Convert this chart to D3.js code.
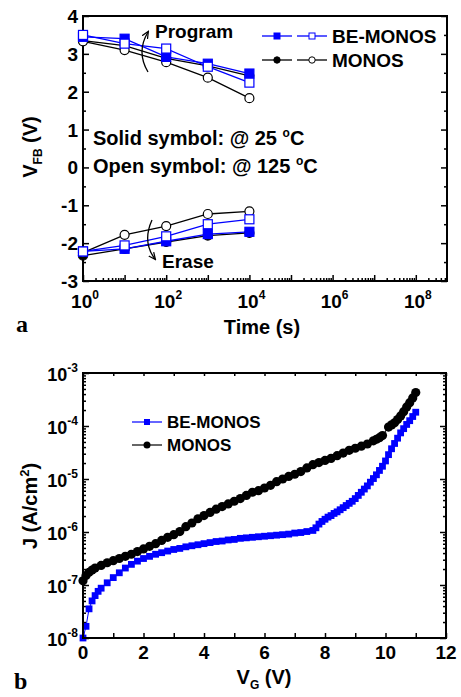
<!DOCTYPE html>
<html>
<head>
<meta charset="utf-8">
<script src="https://cdn.jsdelivr.net/npm/d3@7"></script>
<style>
  body { margin: 0; background: #fff; }
  svg { display: block; }
  text { font-family: 'Liberation Sans', Arial, sans-serif; font-weight: bold; fill: #000; }
  .panel { font-family: 'Liberation Serif', 'Times New Roman', serif; }
</style>
</head>
<body>
<div id="chart"></div>
<script>
// ---- panel a : retention, V_FB vs time ----
const times = [1, 10, 100, 1000, 10000]
const beProgSolid = [3.45, 3.40, 2.92, 2.74, 2.48]
const beProgOpen = [3.50, 3.27, 3.14, 2.66, 2.24]
const monProgSolid = [3.35, 3.22, 2.88, 2.68, 2.42]
const monProgOpen = [3.33, 3.10, 2.78, 2.37, 1.83]
const beEraseSolid = [-2.22, -2.15, -1.95, -1.76, -1.70]
const beEraseOpen = [-2.22, -2.06, -1.82, -1.50, -1.37]
const monEraseSolid = [-2.33, -2.15, -1.97, -1.80, -1.73]
const monEraseOpen = [-2.25, -1.78, -1.55, -1.23, -1.16]
const vfbTicks = [-3, -2, -1, 0, 1, 2, 3, 4]
const timeExpLabels = [0, 2, 4, 6, 8]

// ---- panel b : J-V ----
const vgBE = [0, 0.1, 0.2, 0.3, 0.4, 0.5, 0.6, 0.8, 1.0, 1.2, 1.4, 1.6, 1.8, 2.0, 2.2, 2.4, 2.6, 2.8, 3.0,
  3.2, 3.4, 3.6, 3.8, 4.0, 4.2, 4.4, 4.6, 4.8, 5.0, 5.2, 5.4, 5.6, 5.8, 6.0, 6.2, 6.4, 6.6, 6.8, 7.0, 7.2, 7.4,
  7.6, 7.7, 7.8, 7.9, 8.0, 8.1, 8.2, 8.3, 8.4, 8.5, 8.6, 8.7, 8.8, 8.9, 9.0, 9.1, 9.2, 9.3, 9.4, 9.5, 9.6,
  9.7, 9.8, 9.9, 10.0, 10.1, 10.2, 10.3, 10.4, 10.5, 10.6, 10.7, 10.8, 10.9, 11.0]
const jBE = [1.0e-8, 1.66e-8, 3.55e-8, 5.01e-8, 6.31e-8, 7.59e-8, 8.71e-8, 1.10e-7, 1.38e-7, 1.70e-7, 2.09e-7,
  2.45e-7, 2.82e-7, 3.16e-7, 3.47e-7, 3.80e-7, 4.07e-7, 4.37e-7, 4.68e-7, 4.90e-7, 5.25e-7, 5.50e-7, 5.75e-7,
  6.03e-7, 6.31e-7, 6.61e-7, 6.76e-7, 7.08e-7, 7.24e-7, 7.59e-7, 7.76e-7, 7.94e-7, 8.13e-7, 8.32e-7, 8.51e-7,
  8.71e-7, 8.91e-7, 9.12e-7, 9.55e-7, 9.77e-7, 1.02e-6, 1.07e-6, 1.20e-6, 1.41e-6, 1.58e-6, 1.74e-6, 1.91e-6,
  2.04e-6, 2.24e-6, 2.40e-6, 2.63e-6, 2.88e-6, 3.16e-6, 3.47e-6, 3.80e-6, 4.27e-6, 4.90e-6, 5.62e-6, 6.46e-6,
  7.41e-6, 8.71e-6, 1.02e-5, 1.20e-5, 1.45e-5, 1.74e-5, 2.19e-5, 2.88e-5, 3.72e-5, 4.68e-5, 5.89e-5, 7.41e-5,
  8.91e-5, 1.07e-4, 1.26e-4, 1.51e-4, 1.82e-4]
const vgMON = [0, 0.1, 0.2, 0.3, 0.4, 0.6, 0.8, 1.0, 1.2, 1.4, 1.6, 1.8, 2.0, 2.2, 2.4, 2.6, 2.8, 3.0, 3.2,
  3.4, 3.6, 3.8, 4.0, 4.2, 4.4, 4.6, 4.8, 5.0, 5.2, 5.4, 5.6, 5.8, 6.0, 6.2, 6.4, 6.6, 6.8, 7.0, 7.2, 7.4, 7.6,
  7.8, 8.0, 8.2, 8.4, 8.6, 8.8, 9.0, 9.2, 9.4, 9.6, 9.7, 9.8, 9.9, 10.1, 10.2, 10.3, 10.4, 10.5, 10.6, 10.7,
  10.8, 10.9, 11.0]
const jMON = [1.20e-7, 1.51e-7, 1.74e-7, 1.91e-7, 2.09e-7, 2.34e-7, 2.63e-7, 2.88e-7, 3.16e-7, 3.47e-7,
  3.80e-7, 4.27e-7, 4.79e-7, 5.37e-7, 6.03e-7, 6.92e-7, 7.94e-7, 8.91e-7, 1.02e-6, 1.26e-6, 1.48e-6, 1.78e-6,
  2.04e-6, 2.34e-6, 2.69e-6, 3.02e-6, 3.39e-6, 3.80e-6, 4.27e-6, 4.90e-6, 5.62e-6, 6.03e-6, 6.76e-6, 7.59e-6,
  8.91e-6, 1.00e-5, 1.12e-5, 1.23e-5, 1.38e-5, 1.62e-5, 1.86e-5, 2.04e-5, 2.24e-5, 2.45e-5, 2.75e-5, 3.09e-5,
  3.47e-5, 3.80e-5, 4.17e-5, 4.57e-5, 5.25e-5, 5.62e-5, 6.03e-5, 6.61e-5, 9.55e-5, 1.05e-4, 1.15e-4, 1.32e-4,
  1.55e-4, 1.86e-4, 2.29e-4, 2.75e-4, 3.39e-4, 4.27e-4]
const vgTicks = [0, 2, 4, 6, 8, 10, 12]
const jExpLabels = [-8, -7, -6, -5, -4, -3]

const BLUE = '#0000ff'
const width = 461
const height = 697

const svg = d3.select('#chart').append('svg')
  .attr('width', width)
  .attr('height', height)
svg.append('rect').attr('width', width).attr('height', height).attr('fill', '#fff')

let supLabel = function (g, x, y, base, exp, anchor, size) {
  let t = g.append('text')
    .attr('x', x)
    .attr('y', y)
    .attr('text-anchor', anchor)
    .style('font-size', size + 'px')
  t.append('tspan').text(base)
  t.append('tspan')
    .attr('dy', -0.5 * size)
    .style('font-size', Math.round(size * 0.65) + 'px')
    .text(exp)
  return t
}

let styleAxis = function (g) {
  g.select('.domain').remove()
  g.selectAll('.tick line').attr('stroke', '#000').attr('stroke-width', 1.5)
  g.selectAll('.tick text').remove()
}

// ================= panel a =================
const a = { left: 83, right: 447, top: 16, bottom: 281 }
const xa = d3.scaleLog().domain([1, Math.pow(10, 8.75)]).range([a.left, a.right])
const ya = d3.scaleLinear().domain([-3, 4]).range([a.bottom, a.top])

let decades = d3.range(0, 9).map(e => Math.pow(10, e))
let minorT = []
decades.forEach(d => { for (let m = 2; m <= 9; m++) if (m * d <= xa.domain()[1]) minorT.push(m * d) })

let ga = svg.append('g')
ga.append('g').attr('transform', `translate(0,${a.bottom})`)
  .call(d3.axisBottom(xa).tickValues(decades).tickSize(-6).tickSizeOuter(0)).call(styleAxis)
ga.append('g').attr('transform', `translate(0,${a.bottom})`)
  .call(d3.axisBottom(xa).tickValues(minorT).tickSize(-3).tickSizeOuter(0)).call(styleAxis)
let halfT = d3.range(-2.5, 4, 1)
ga.append('g').attr('transform', `translate(${a.left},0)`)
  .call(d3.axisLeft(ya).tickValues(vfbTicks).tickSize(-6).tickSizeOuter(0)).call(styleAxis)
ga.append('g').attr('transform', `translate(${a.left},0)`)
  .call(d3.axisLeft(ya).tickValues(halfT).tickSize(-3).tickSizeOuter(0)).call(styleAxis)
ga.append('g').attr('transform', `translate(${a.right},0)`)
  .call(d3.axisRight(ya).tickValues(vfbTicks).tickSize(-6).tickSizeOuter(0)).call(styleAxis)
ga.append('g').attr('transform', `translate(${a.right},0)`)
  .call(d3.axisRight(ya).tickValues(halfT).tickSize(-3).tickSizeOuter(0)).call(styleAxis)
ga.append('rect')
  .attr('x', a.left).attr('y', a.top)
  .attr('width', a.right - a.left).attr('height', a.bottom - a.top)
  .attr('fill', 'none').attr('stroke', '#000').attr('stroke-width', 2)

// tick labels
vfbTicks.forEach(v => {
  ga.append('text').attr('x', a.left - 5).attr('y', ya(v) + 7)
    .attr('text-anchor', 'end').style('font-size', '19px').text(v)
})
timeExpLabels.forEach(e => {
  supLabel(ga, xa(Math.pow(10, e)) + 2, 308, '10', e, 'middle', 19)
})

// series
let lineA = d3.line().x((d, i) => xa(times[i])).y(d => ya(d))
let seriesA = [
  { data: monProgSolid, color: '#000', shape: 'circle', fill: true },
  { data: monProgOpen, color: '#000', shape: 'circle', fill: false },
  { data: monEraseSolid, color: '#000', shape: 'circle', fill: true },
  { data: monEraseOpen, color: '#000', shape: 'circle', fill: false },
  { data: beProgSolid, color: BLUE, shape: 'square', fill: true },
  { data: beProgOpen, color: BLUE, shape: 'square', fill: false },
  { data: beEraseSolid, color: BLUE, shape: 'square', fill: true },
  { data: beEraseOpen, color: BLUE, shape: 'square', fill: false }
]
seriesA.forEach(s => {
  ga.append('path').datum(s.data)
    .attr('d', lineA).attr('fill', 'none')
    .attr('stroke', s.color).attr('stroke-width', 1.3)
})
seriesA.forEach(s => {
  let sel = ga.append('g').selectAll('.m').data(s.data).enter()
  if (s.shape === 'circle') {
    sel.append('circle')
      .attr('cx', (d, i) => xa(times[i])).attr('cy', d => ya(d)).attr('r', 4.5)
      .attr('fill', s.fill ? s.color : '#fff').attr('stroke', s.color).attr('stroke-width', 1.2)
  } else {
    sel.append('rect')
      .attr('x', (d, i) => xa(times[i]) - 4.5).attr('y', d => ya(d) - 4.5)
      .attr('width', 9).attr('height', 9)
      .attr('fill', s.fill ? s.color : '#fff').attr('stroke', s.color).attr('stroke-width', 1.2)
  }
})

// legend a
let legA = [
  { name: 'BE-MONOS', color: BLUE, shape: 'square', y: 36 },
  { name: 'MONOS', color: '#000', shape: 'circle', y: 60 }
]
legA.forEach(l => {
  [[262, 292, true], [297, 327, false]].forEach(seg => {
    ga.append('line').attr('x1', seg[0]).attr('x2', seg[1]).attr('y1', l.y).attr('y2', l.y)
      .attr('stroke', l.color).attr('stroke-width', 1.3)
    let cx = (seg[0] + seg[1]) / 2
    if (l.shape === 'square') {
      ga.append('rect').attr('x', cx - 3).attr('y', l.y - 3).attr('width', 6).attr('height', 6)
        .attr('fill', seg[2] ? l.color : '#fff').attr('stroke', l.color).attr('stroke-width', 1)
    } else {
      ga.append('circle').attr('cx', cx).attr('cy', l.y).attr('r', 3.2)
        .attr('fill', seg[2] ? l.color : '#fff').attr('stroke', l.color).attr('stroke-width', 1)
    }
  })
  ga.append('text').attr('x', 332).attr('y', l.y + 7).style('font-size', '19px').text(l.name)
})

// annotations
let defs = svg.append('defs')
defs.append('marker').attr('id', 'head')
  .attr('viewBox', '0 0 10 10').attr('refX', 8).attr('refY', 5)
  .attr('markerWidth', 6).attr('markerHeight', 6).attr('orient', 'auto')
  .append('path').attr('d', 'M0,1 L9,5 L0,9').attr('fill', 'none').attr('stroke', '#000').attr('stroke-width', 1.6)

ga.append('path').attr('d', 'M148,72 Q136,52 148,32')
  .attr('fill', 'none').attr('stroke', '#000').attr('stroke-width', 1.3).attr('marker-end', 'url(#head)')
ga.append('text').attr('x', 155).attr('y', 38).style('font-size', '19px').text('Program')
ga.append('path').attr('d', 'M152,220 Q142,242 155,259')
  .attr('fill', 'none').attr('stroke', '#000').attr('stroke-width', 1.3).attr('marker-end', 'url(#head)')
ga.append('text').attr('x', 162).attr('y', 268).style('font-size', '19px').text('Erase')

let t1 = ga.append('text').attr('x', 93).attr('y', 145).style('font-size', '20px')
t1.append('tspan').text('Solid symbol: @ 25 ')
t1.append('tspan').attr('dy', -8).style('font-size', '12px').text('o')
t1.append('tspan').attr('dy', 8).text('C')
let t2 = ga.append('text').attr('x', 93).attr('y', 173).style('font-size', '20px')
t2.append('tspan').text('Open symbol: @ 125 ')
t2.append('tspan').attr('dy', -8).style('font-size', '12px').text('o')
t2.append('tspan').attr('dy', 8).text('C')

// axis titles a
let yTitleA = ga.append('text').attr('transform', 'translate(37,147) rotate(-90)')
  .attr('text-anchor', 'middle').style('font-size', '20px')
yTitleA.append('tspan').text('V')
yTitleA.append('tspan').attr('dy', 5).style('font-size', '12px').text('FB')
yTitleA.append('tspan').attr('dy', -5).text(' (V)')
ga.append('text').attr('x', 262).attr('y', 334).attr('text-anchor', 'middle')
  .style('font-size', '20px').text('Time (s)')
ga.append('text').attr('class', 'panel').attr('x', 16).attr('y', 332)
  .style('font-size', '24px').text('a')

// ================= panel b =================
const b = { left: 83, right: 446, top: 373, bottom: 638 }
const xb = d3.scaleLinear().domain([0, 12]).range([b.left, b.right])
const yb = d3.scaleLog().domain([1e-8, 1e-3]).range([b.bottom, b.top])

let gb = svg.append('g')
let vAll = d3.range(0, 13)
let jMajor = jExpLabels.map(e => Math.pow(10, e))
let jMinor = []
jMajor.slice(0, -1).forEach(d => { for (let m = 2; m <= 9; m++) jMinor.push(m * d) })

gb.append('g').attr('transform', `translate(0,${b.bottom})`)
  .call(d3.axisBottom(xb).tickValues(vAll).tickSize(-5).tickSizeOuter(0)).call(styleAxis)
gb.append('g').attr('transform', `translate(0,${b.top})`)
  .call(d3.axisTop(xb).tickValues(vAll).tickSize(-3).tickSizeOuter(0)).call(styleAxis)
gb.append('g').attr('transform', `translate(${b.left},0)`)
  .call(d3.axisLeft(yb).tickValues(jMajor).tickSize(-6).tickSizeOuter(0)).call(styleAxis)
gb.append('g').attr('transform', `translate(${b.left},0)`)
  .call(d3.axisLeft(yb).tickValues(jMinor).tickSize(-3).tickSizeOuter(0)).call(styleAxis)
gb.append('g').attr('transform', `translate(${b.right},0)`)
  .call(d3.axisRight(yb).tickValues(jMajor).tickSize(-6).tickSizeOuter(0)).call(styleAxis)
gb.append('g').attr('transform', `translate(${b.right},0)`)
  .call(d3.axisRight(yb).tickValues(jMinor).tickSize(-3).tickSizeOuter(0)).call(styleAxis)

// series b
let lineB = (xs) => d3.line().x((d, i) => xb(xs[i])).y(d => yb(d))
gb.append('path').datum(jMON).attr('d', lineB(vgMON))
  .attr('fill', 'none').attr('stroke', '#000').attr('stroke-width', 1)
gb.append('g').selectAll('circle').data(jMON).enter().append('circle')
  .attr('cx', (d, i) => xb(vgMON[i])).attr('cy', d => yb(d)).attr('r', 4.6).attr('fill', '#000')
gb.append('path').datum(jBE).attr('d', lineB(vgBE))
  .attr('fill', 'none').attr('stroke', BLUE).attr('stroke-width', 1)
gb.append('g').selectAll('rect').data(jBE).enter().append('rect')
  .attr('x', (d, i) => xb(vgBE[i]) - 3.4).attr('y', d => yb(d) - 3.4)
  .attr('width', 6.8).attr('height', 6.8).attr('fill', BLUE)

gb.append('rect')
  .attr('x', b.left).attr('y', b.top)
  .attr('width', b.right - b.left).attr('height', b.bottom - b.top)
  .attr('fill', 'none').attr('stroke', '#000').attr('stroke-width', 2)

// tick labels b
vgTicks.forEach(v => {
  gb.append('text').attr('x', xb(v)).attr('y', 659).attr('text-anchor', 'middle')
    .style('font-size', '19px').text(v)
})
jExpLabels.forEach(e => {
  supLabel(gb, 78, yb(Math.pow(10, e)) + 8, '10', e, 'end', 18)
})

// legend b
let legB = [
  { name: 'BE-MONOS', color: BLUE, shape: 'square', y: 422 },
  { name: 'MONOS', color: '#000', shape: 'circle', y: 445 }
]
legB.forEach(l => {
  gb.append('line').attr('x1', 132).attr('x2', 162).attr('y1', l.y).attr('y2', l.y)
    .attr('stroke', l.color).attr('stroke-width', 1.2)
  if (l.shape === 'square') {
    gb.append('rect').attr('x', 144).attr('y', l.y - 3).attr('width', 6).attr('height', 6).attr('fill', l.color)
  } else {
    gb.append('circle').attr('cx', 147).attr('cy', l.y).attr('r', 3.5).attr('fill', l.color)
  }
  gb.append('text').attr('x', 167).attr('y', l.y + 6).style('font-size', '17px').text(l.name)
})

// axis titles b
let yTitleB = gb.append('text').attr('transform', 'translate(37,506) rotate(-90)')
  .attr('text-anchor', 'middle').style('font-size', '20px')
yTitleB.append('tspan').text('J (A/cm')
yTitleB.append('tspan').attr('dy', -8).style('font-size', '13px').text('2')
yTitleB.append('tspan').attr('dy', 8).text(')')
let xTitleB = gb.append('text').attr('x', 264).attr('y', 684).attr('text-anchor', 'middle')
  .style('font-size', '20px')
xTitleB.append('tspan').text('V')
xTitleB.append('tspan').attr('dy', 5).style('font-size', '12px').text('G')
xTitleB.append('tspan').attr('dy', -5).text(' (V)')
gb.append('text').attr('class', 'panel').attr('x', 14).attr('y', 689)
  .style('font-size', '24px').text('b')
</script>
</body>
</html>
